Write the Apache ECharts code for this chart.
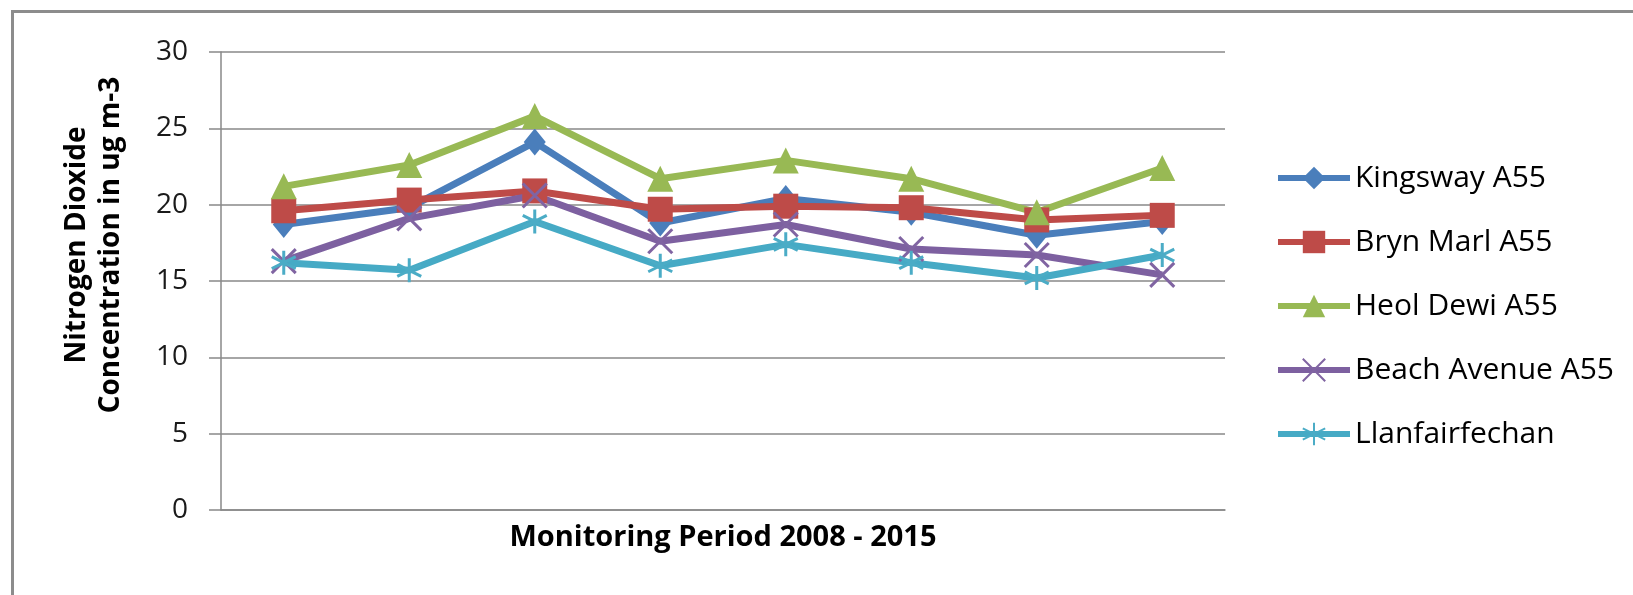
<!DOCTYPE html>
<html>
<head>
<meta charset="utf-8">
<script src="https://cdn.jsdelivr.net/npm/echarts@6/dist/echarts.min.js"></script>
<style>
  html, body { margin: 0; padding: 0; background: #fff; }
  #chart { width: 1633px; height: 595px; }
</style>
</head>
<body>
<div id="chart"></div>
<script>
const categories = ['2008', '2009', '2010', '2011', '2012', '2013', '2014', '2015'];
const kingsway = [18.7, 19.8, 24.1, 18.8, 20.4, 19.5, 18.0, 18.9];
const brynMarl = [19.6, 20.3, 20.9, 19.7, 19.9, 19.8, 19.0, 19.3];
const heolDewi = [21.2, 22.6, 25.8, 21.7, 22.9, 21.7, 19.5, 22.4];
const beachAvenue = [16.3, 19.1, 20.6, 17.6, 18.7, 17.1, 16.7, 15.4];
const llanfairfechan = [16.2, 15.7, 18.9, 16.0, 17.4, 16.2, 15.2, 16.7];
const seriesNames = ['Kingsway A55', 'Bryn Marl A55', 'Heol Dewi A55', 'Beach Avenue A55', 'Llanfairfechan'];
const yTicks = [0, 5, 10, 15, 20, 25, 30];
const xTitle = 'Monitoring Period 2008 - 2015';
const yTitle = 'Nitrogen Dioxide\nConcentration in ug m-3';

const FONT = 'Open Sans';
const AXIS_GRAY = '#898989';
const LW = 7;

function lineSeries(name, data, color, symbol, symbolSize, stroke) {
  return {
    name: name,
    type: 'line',
    data: data,
    symbol: symbol,
    symbolSize: symbolSize,
    showAllSymbol: true,
    lineStyle: { color: color, width: LW },
    itemStyle: stroke
      ? { color: 'transparent', borderColor: stroke, borderWidth: 3 }
      : { color: color, borderWidth: 0 },
    emphasis: { disabled: true },
    animation: false
  };
}

const chart = echarts.init(document.getElementById('chart'), null, { renderer: 'canvas' });
chart.setOption({
  backgroundColor: '#ffffff',
  animation: false,
  graphic: [{
    type: 'rect',
    shape: { x: 12.5, y: 11.5, width: 1700, height: 700 },
    style: { fill: 'none', stroke: '#8c8c8c', lineWidth: 3 },
    silent: true, z: -10
  }],
  grid: { left: 221, right: 408, top: 52, bottom: 85, containLabel: false },
  legend: {
    orient: 'vertical',
    left: 1275,
    top: 163,
    padding: 0,
    itemWidth: 72,
    itemHeight: 28,
    itemGap: 34,
    selectedMode: false,
    lineStyle: { width: 6 },
    textStyle: { fontFamily: FONT, fontSize: 30, color: '#000' },
    data: seriesNames
  },
  xAxis: {
    type: 'category',
    data: categories,
    boundaryGap: true,
    name: xTitle,
    nameLocation: 'middle',
    nameGap: 13,
    nameTextStyle: { fontFamily: FONT, fontSize: 29, fontWeight: 'bold', color: '#000', verticalAlign: 'top' },
    axisLine: { show: true, lineStyle: { color: AXIS_GRAY, width: 1.5 } },
    axisTick: { show: false },
    axisLabel: { show: false },
    splitLine: { show: false }
  },
  yAxis: {
    type: 'value',
    min: yTicks[0],
    max: yTicks[yTicks.length - 1],
    interval: 5,
    name: yTitle,
    nameLocation: 'middle',
    nameRotate: 90,
    nameGap: 93,
    nameTextStyle: { fontFamily: FONT, fontSize: 28, fontWeight: 'bold', color: '#000', lineHeight: 34, padding: [0, 0, 0, 72] },
    axisLine: { show: true, lineStyle: { color: AXIS_GRAY, width: 1.5 } },
    axisTick: { show: true, length: 12, lineStyle: { color: AXIS_GRAY, width: 1.5 } },
    axisLabel: { fontFamily: FONT, fontSize: 28, color: '#1a1a1a', margin: 33 },
    splitLine: { show: true, lineStyle: { color: AXIS_GRAY, width: 1.5 } }
  },
  series: [
    lineSeries(seriesNames[0], kingsway, '#4A7EBB', 'diamond', [22, 27]),
    lineSeries(seriesNames[1], brynMarl, '#BE4B48', 'rect', 25),
    lineSeries(seriesNames[2], heolDewi, '#98B954', 'triangle', [26, 26]),
    lineSeries(seriesNames[3], beachAvenue, '#7D60A0', 'path://M0,0L10,10M10,0L0,10', 24, '#8064A2'),
    lineSeries(seriesNames[4], llanfairfechan, '#46AAC5', 'path://M5,0L5,10M0.7,2.5L9.3,7.5M9.3,2.5L0.7,7.5', 24, '#4BACC6')
  ]
});
</script>
</body>
</html>
